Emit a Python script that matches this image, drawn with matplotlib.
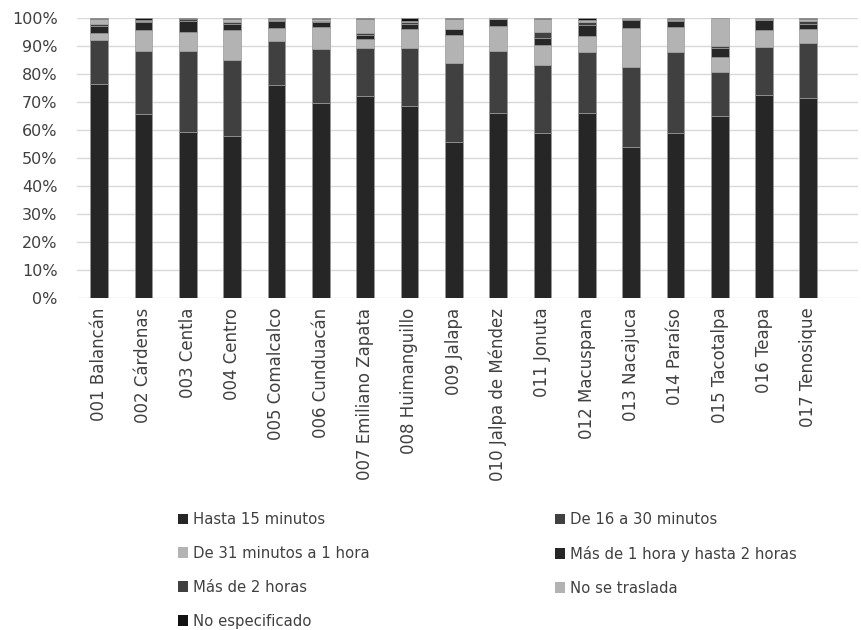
import matplotlib
matplotlib.use("Agg")
import matplotlib.pyplot as plt
from matplotlib.patches import Patch
import numpy as np

categories = ["001 Balancán", "002 Cárdenas", "003 Centla", "004 Centro", "005 Comalcalco",
              "006 Cunduacán", "007 Emiliano Zapata", "008 Huimanguillo", "009 Jalapa",
              "010 Jalpa de Méndez", "011 Jonuta", "012 Macuspana", "013 Nacajuca",
              "014 Paraíso", "015 Tacotalpa", "016 Teapa", "017 Tenosique"]

hasta15 = [76.3, 65.6, 59.2, 57.7, 76.0, 69.8, 72.0, 68.5, 55.6, 66.0, 58.8, 66.0, 53.8, 58.8, 65.1, 72.4, 71.5]
de16_30 = [15.7, 22.6, 29.1, 27.4, 15.8, 19.2, 17.3, 20.8, 28.4, 22.2, 24.4, 21.9, 28.8, 29.1, 15.7, 17.1, 19.7]
de31_1h = [2.6, 7.4, 6.8, 10.5, 4.7, 7.8, 3.3, 6.7, 9.9, 8.9, 7.2, 5.7, 13.9, 8.9, 5.2, 6.3, 4.9]
mas1_2h = [2.4, 3.0, 3.9, 2.4, 2.4, 1.8, 1.4, 2.0, 2.1, 2.4, 2.3, 4.0, 2.8, 2.2, 3.4, 3.4, 1.8]
mas2h = [0.7, 0.3, 0.5, 0.6, 0.4, 0.3, 0.8, 0.6, 0.1, 0.2, 2.2, 1.0, 0.3, 0.4, 0.7, 0.3, 0.9]
no_tras = [1.8, 0.3, 0.3, 0.9, 0.5, 0.7, 5.0, 0.3, 3.5, 0.2, 4.7, 0.6, 0.3, 0.3, 9.8, 0.3, 0.7]
no_esp = [0.5, 0.8, 0.2, 0.5, 0.2, 0.4, 0.2, 1.1, 0.4, 0.1, 0.4, 0.8, 0.1, 0.3, 0.1, 0.2, 0.5]

series_names = ["Hasta 15 minutos", "De 16 a 30 minutos", "De 31 minutos a 1 hora",
                "Más de 1 hora y hasta 2 horas", "Más de 2 horas", "No se traslada",
                "No especificado"]
series = [hasta15, de16_30, de31_1h, mas1_2h, mas2h, no_tras, no_esp]
colors = ["#262626", "#404040", "#b3b3b3", "#262626", "#404040", "#b3b3b3", "#111111"]

plt.rcParams['font.family'] = ['DejaVu Sans']
fig = plt.figure(figsize=(8.61, 6.30), dpi=100)
ax = fig.add_axes([77 / 861, 1 - 298 / 630, (858 - 77) / 861, (298 - 18) / 630])

x = np.arange(len(categories))
bottom = np.zeros(len(categories))
handles = []
for name, vals, c in zip(series_names, series, colors):
    v = np.array(vals)
    ax.bar(x, v, 0.4, bottom=bottom, color=c, edgecolor="#9a9a9a", linewidth=0.5, zorder=3)
    bottom += v
    handles.append(Patch(facecolor=c, edgecolor="none", label=name))

ax.set_ylim(0, 100)
ax.set_xlim(-0.5, 17.12)
ax.set_yticks(np.arange(0, 101, 10))
ax.set_yticklabels([f"{t}%" for t in range(0, 101, 10)])
ax.set_xticks(x)
ax.set_xticklabels(categories, rotation=90, ha="center", va="top")
ax.tick_params(axis="both", length=0, labelsize=11.5, labelcolor="#404040")
ax.tick_params(axis="x", pad=7, labelsize=12)
ax.tick_params(axis="y", pad=14)
ax.grid(axis="y", color="#d9d9d9", linewidth=1.0, zorder=0)
for s in ax.spines.values():
    s.set_visible(False)

order1 = [0, 2, 4, 6]
order2 = [1, 3, 5]
leg_kw = dict(loc="upper left", frameon=False, fontsize=10.7, labelcolor="#404040",
              handlelength=0.7, handleheight=0.7, handletextpad=0.3, labelspacing=1.27,
              borderaxespad=0, borderpad=0)
leg1 = fig.legend([handles[i] for i in order1], [series_names[i] for i in order1],
                  bbox_to_anchor=(178 / 861, 1 - 512 / 630), **leg_kw)
leg2 = fig.legend([handles[i] for i in order2], [series_names[i] for i in order2],
                  bbox_to_anchor=(555 / 861, 1 - 512 / 630), **leg_kw)

fig.savefig("out.png", dpi=100)
